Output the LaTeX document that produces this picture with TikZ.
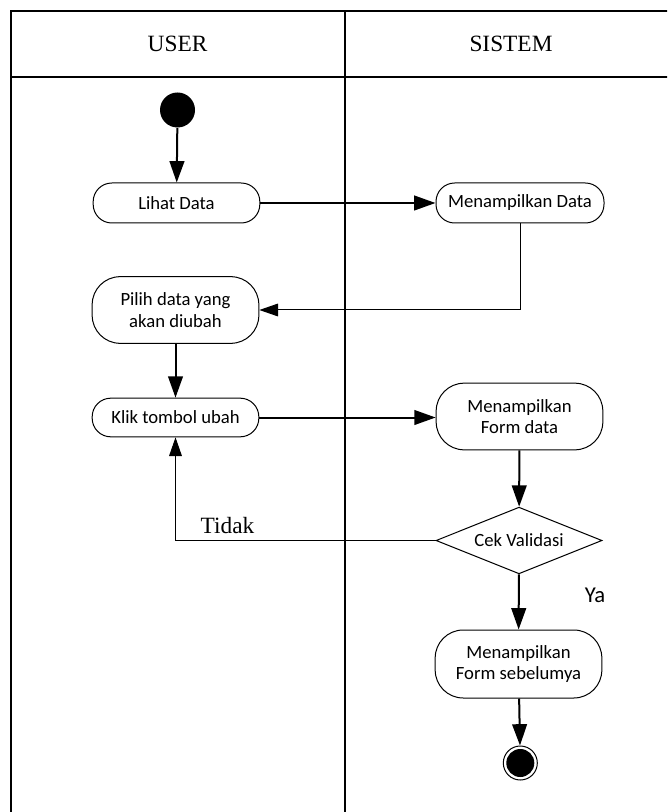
\documentclass[tikz,border=0pt]{standalone}
\usepackage{fontspec}
\setmainfont{Liberation Serif}
\newfontfamily\boxfont{Carlito}
\usetikzlibrary{arrows.meta,shapes.geometric}

\begin{document}
\begin{tikzpicture}[x=0.75pt, y=-0.75pt,
  lane/.style={line width=1.5pt},
  act/.style={draw, line width=0.75pt, rounded corners=14pt, minimum width=125pt,
    minimum height=30pt, align=center, inner sep=2pt,
    font=\boxfont\fontsize{14}{16}\selectfont},
  tallact/.style={act, minimum height=50pt, rounded corners=21pt},
  cond/.style={draw, diamond, line width=0.75pt, aspect=2.5, minimum width=124.5pt,
    minimum height=50pt, inner sep=0pt, font=\boxfont\fontsize{14}{16}\selectfont},
  flow/.style={line width=1.5pt, -{Triangle[length=16pt, width=11pt]}},
  back/.style={line width=0.75pt, -{Triangle[length=14pt, width=9.5pt]}},
  title/.style={font=\fontsize{17.5}{20}\selectfont}]

\clip (0,0) rectangle (667,812);

% swimlanes
\draw[lane] (11,11) rectangle (678,840);
\draw[lane] (11,77) -- (678,77);
\draw[lane] (344.5,11) -- (344.5,840);
\node[title] (user) at (177.5,44) {USER};
\node[title] (sistem) at (511,44) {SISTEM};

% start
\node[circle, fill=black, minimum size=26.25pt, inner sep=0pt] (start) at (177.5,110) {};

% user side
\node[act] (lihat) at (176.5,203) {Lihat Data};
\node[tallact] (pilih) at (175.5,310) {Pilih data yang\\akan diubah};
\node[act, minimum height=29pt] (klik) at (175.5,417.5) {Klik tombol ubah};

% system side
\node[act, minimum width=126pt] (tampil) at (520,203) {Menampilkan Data};
\node[tallact] (form) at (519.5,416.5) {Menampilkan\\Form data};
\node[cond] (cek) at (519,540.5) {Cek Validasi};
\node[tallact, minimum height=51pt] (sebelum) at (518.5,664) {Menampilkan\\Form sebelumya};

% end
\node[circle, draw, line width=0.75pt, minimum size=25.5pt, inner sep=0pt,
  path picture={\fill[black] (path picture bounding box.center) circle (10.5pt);}]
  (akhir) at (520.3,763) {};

\draw[flow] (start) -- (lihat);
\draw[flow] (lihat) -- (tampil);
\draw[back] (tampil.south) |- (pilih.east);
\draw[flow] (pilih) -- (klik);
\draw[flow] (klik.east) -- (klik.east -| form.west);
\draw[flow] (form) -- (cek);
\draw[back] (cek.west) -| (klik.south);
\draw[flow] (cek) -- (sebelum);
\draw[flow] (sebelum) -- (akhir);

\node[title] (tidak) at (227.5,526) {Tidak};
\node[font=\boxfont\fontsize{17}{20}\selectfont] (ya) at (595,595) {Ya};

\end{tikzpicture}
\end{document}
